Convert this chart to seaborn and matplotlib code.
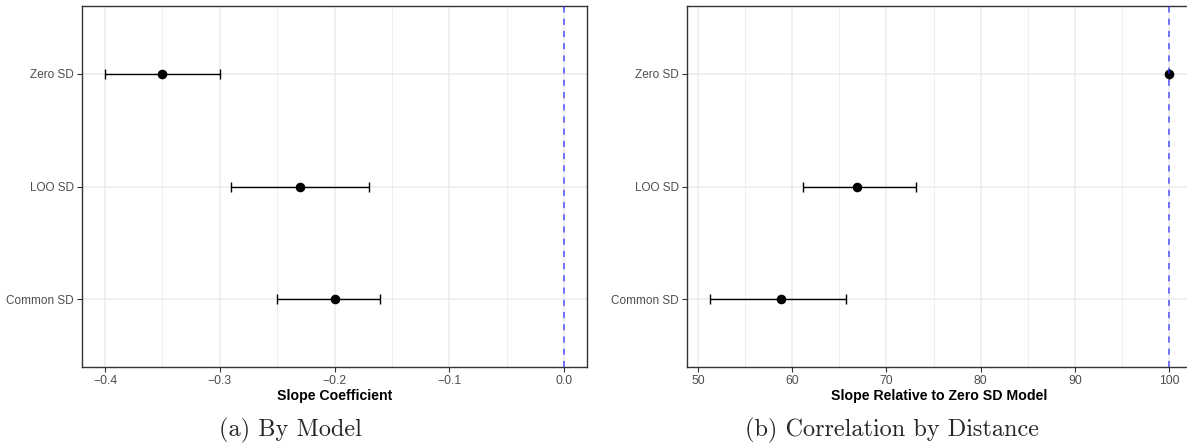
import numpy as np
import pandas as pd
import seaborn as sns
import matplotlib.pyplot as plt

# data (top to bottom)
models = ["Zero SD", "LOO SD", "Common SD"]

slope_est = [-0.35, -0.23, -0.20]
slope_lo = [-0.40, -0.29, -0.25]
slope_hi = [-0.30, -0.17, -0.16]

rel_est = [100.0, 66.9, 58.8]
rel_lo = [100.0, 61.1, 51.27]
rel_hi = [100.0, 73.1, 65.75]

sns.set_theme(style="white")
plt.rcParams['font.family'] = ['Liberation Sans', 'DejaVu Sans']

W, H = 1187, 446
fig = plt.figure(figsize=(W / 100, H / 100), dpi=100)


def px_axes(left, right, top, bottom):
    return fig.add_axes([left / W, 1 - bottom / H, (right - left) / W, (bottom - top) / H])


def draw_panel(ax, est, lo, hi, xlim, major, minor, ref, xlabel):
    df = pd.DataFrame({"model": models, "est": est, "lo": lo, "hi": hi})
    # y position: Zero SD on top
    df["ypos"] = [2, 1, 0]
    ax.set_xlim(*xlim)
    ax.set_ylim(-0.6, 2.6)
    for g in major:
        ax.axvline(g, color="#EBEBEB", lw=1.1, zorder=0)
    for g in minor:
        ax.axvline(g, color="#EBEBEB", lw=0.6, zorder=0)
    for y in df["ypos"]:
        ax.axhline(y, color="#EBEBEB", lw=1.1, zorder=0)
    ax.errorbar(df["est"], df["ypos"],
                xerr=[df["est"] - df["lo"], df["hi"] - df["est"]],
                fmt="none", ecolor="black", elinewidth=1.0, capsize=3.5,
                capthick=1.0, zorder=2)
    sns.scatterplot(data=df, x="est", y="ypos", ax=ax, color="black",
                    s=48, edgecolor="black", linewidth=0, zorder=3, legend=False)
    ax.axvline(ref, color="#3333FF", lw=1.1, ls=(0, (4, 4)), alpha=0.85, zorder=4)
    ax.set_yticks(df["ypos"])
    ax.set_yticklabels(df["model"])
    ax.set_xticks(major)
    ax.set_xlabel(xlabel, fontsize=10.2, fontweight="bold", color="black", labelpad=1.5)
    ax.set_ylabel("")
    ax.tick_params(axis="both", which="major", length=3.8, width=0.8, color="#333333",
                   labelcolor="#4D4D4D", pad=2, left=True, bottom=True)
    ax.tick_params(axis="x", labelsize=8.8)
    ax.tick_params(axis="y", labelsize=8.5)
    for sp in ax.spines.values():
        sp.set_color("#333333")
        sp.set_linewidth(1.0)


ax1 = px_axes(82, 587, 6, 367)
draw_panel(ax1, slope_est, slope_lo, slope_hi, (-0.42, 0.02),
           [-0.4, -0.3, -0.2, -0.1, 0.0], [-0.35, -0.25, -0.15, -0.05],
           0.0, "Slope Coefficient")
ax1.set_xticklabels(["\u22120.4", "\u22120.3", "\u22120.2", "\u22120.1", "0.0"])

ax2 = px_axes(687, 1192, 6, 367)
draw_panel(ax2, rel_est, rel_lo, rel_hi, (48.83, 102.44),
           [50, 60, 70, 80, 90, 100], [55, 65, 75, 85, 95],
           100.0, "Slope Relative to Zero SD Model")
ax2.set_xticklabels(["50", "60", "70", "80", "90", "100"])

fig.text(290 / W, 1 - 436 / H, "(a) By Model", family="cmr10", fontsize=17.5,
         ha="center", va="baseline")
fig.text(892 / W, 1 - 436 / H, "(b) Correlation by Distance", family="cmr10",
         fontsize=17.5, ha="center", va="baseline")

fig.savefig("out.png", dpi=100)
